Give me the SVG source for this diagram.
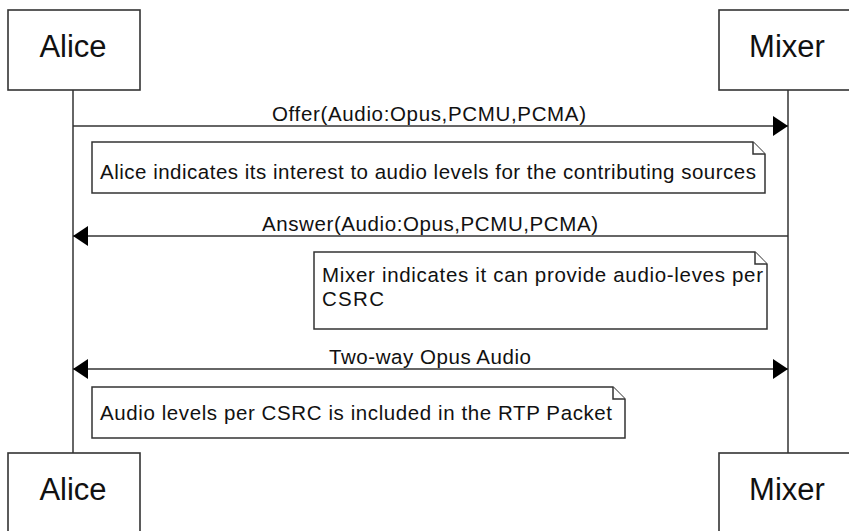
<svg xmlns="http://www.w3.org/2000/svg" width="849" height="531" viewBox="0 0 849 531">
  <style>
    .actor { fill: #ffffff; stroke: #333333; stroke-width: 1.6; }
    .actor-label { font-family: "Liberation Sans", Arial, sans-serif; font-size: 31px; fill: #111111; text-anchor: middle; }
    .lifeline { stroke: #333333; stroke-width: 1.5; fill: none; }
    .msg { stroke: #333333; stroke-width: 1.5; fill: none; }
    .msg-label { font-family: "Liberation Sans", Arial, sans-serif; font-size: 20.5px; fill: #111111; text-anchor: middle; }
    .note { fill: #ffffff; stroke: #333333; stroke-width: 1.5; }
    .note-text { font-family: "Liberation Sans", Arial, sans-serif; font-size: 20.5px; fill: #111111; }
  </style>
  <defs>
    <marker id="arrow" viewBox="0 0 15 20" refX="15" refY="10" markerWidth="15" markerHeight="20" markerUnits="userSpaceOnUse" orient="auto-start-reverse">
      <path d="M0,0 L15,10 L0,20 Z" fill="#000000"/>
    </marker>
  </defs>
  <rect width="849" height="531" fill="#ffffff"/>

  <!-- lifelines -->
  <g id="lifelines">
    <line class="lifeline" x1="73" y1="90" x2="73" y2="453"/>
    <line class="lifeline" x1="788" y1="90" x2="788" y2="453"/>
  </g>

  <!-- participants, top -->
  <g id="alice-top">
    <rect class="actor" x="8" y="10" width="132" height="80"/>
    <text class="actor-label" x="73" y="57">Alice</text>
  </g>
  <g id="mixer-top">
    <rect class="actor" x="719" y="10" width="138" height="80"/>
    <text class="actor-label" x="787" y="57">Mixer</text>
  </g>

  <!-- messages -->
  <g id="connectors">
    <line class="msg" x1="73" y1="126" x2="788" y2="126" marker-end="url(#arrow)"/>
    <text class="msg-label" x="429" y="121" textLength="314" lengthAdjust="spacing">Offer(Audio:Opus,PCMU,PCMA)</text>

    <line class="msg" x1="788" y1="236" x2="73" y2="236" marker-end="url(#arrow)"/>
    <text class="msg-label" x="430" y="231" textLength="336" lengthAdjust="spacing">Answer(Audio:Opus,PCMU,PCMA)</text>

    <line class="msg" x1="73" y1="369" x2="788" y2="369" marker-start="url(#arrow)" marker-end="url(#arrow)"/>
    <text class="msg-label" x="430" y="364" textLength="202" lengthAdjust="spacing">Two-way Opus Audio</text>
  </g>

  <!-- notes -->
  <g id="note-alice-interest">
    <path class="note" d="M92,142 H753 L765,154 V193 H92 Z"/>
    <path class="note" d="M753,142 V154 H765" fill="none"/>
    <text class="note-text" x="100" y="179" textLength="656" lengthAdjust="spacing">Alice indicates its interest to audio levels for the contributing sources</text>
  </g>
  <g id="note-mixer-levels">
    <path class="note" d="M314,252 H755 L767,264 V329 H314 Z"/>
    <path class="note" d="M755,252 V264 H767" fill="none"/>
    <text class="note-text" x="322" y="282" textLength="441" lengthAdjust="spacing">Mixer indicates it can provide audio-leves per</text>
    <text class="note-text" x="322" y="306" textLength="62" lengthAdjust="spacing">CSRC</text>
  </g>
  <g id="note-rtp">
    <path class="note" d="M92,387 H613 L625,399 V438 H92 Z"/>
    <path class="note" d="M613,387 V399 H625" fill="none"/>
    <text class="note-text" x="100" y="420" textLength="512" lengthAdjust="spacing">Audio levels per CSRC is included in the RTP Packet</text>
  </g>

  <!-- participants, bottom -->
  <g id="alice-bottom">
    <rect class="actor" x="8" y="453" width="132" height="80"/>
    <text class="actor-label" x="73" y="500">Alice</text>
  </g>
  <g id="mixer-bottom">
    <rect class="actor" x="719" y="453" width="138" height="80"/>
    <text class="actor-label" x="787" y="500">Mixer</text>
  </g>
</svg>
